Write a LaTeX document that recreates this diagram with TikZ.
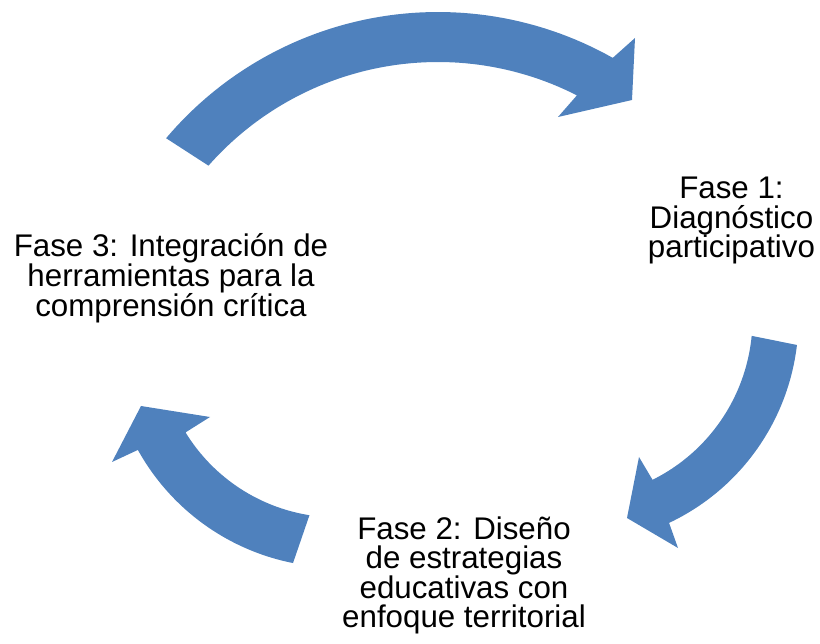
\documentclass[tikz,border=0pt]{standalone}
\usepackage{fontspec}
\setmainfont{Liberation Sans}
\definecolor{arrowblue}{RGB}{79,129,189}
\begin{document}
\begin{tikzpicture}[x=1pt,y=-1pt,
  cyclearrow/.style={fill=arrowblue},
  phase/.style={font=\fontsize{31.3}{29.5}\selectfont, align=center, anchor=base, inner sep=0pt, text=black}]
\useasboundingbox (0,0) rectangle (820,644);
% top arrow (Fase 3 -> Fase 1)
\fill[cyclearrow] plot[domain=220.2:299.4, samples=60] ({438+356*cos(\x)},{368+356*sin(\x)})
  -- (635,38) -- (632,100) -- (558,117)
  -- plot[domain=297:221.4, samples=60] ({438+306*cos(\x)},{368+306*sin(\x)}) -- cycle;
% right arrow (Fase 1 -> Fase 2)
\fill[cyclearrow] plot[domain=5.5:63.6, samples=50] ({572.5+180*cos(\x)},{318.6+180*sin(\x)})
  -- (639,457) -- (627,518) -- (678,548)
  -- plot[domain=64.7:6.7, samples=50] ({572.5+226*cos(\x)},{318.6+226*sin(\x)}) -- cycle;
% left arrow (Fase 2 -> Fase 3)
\fill[cyclearrow] plot[domain=99:148.5, samples=50] ({337.3+178*cos(\x)},{339.4+178*sin(\x)})
  -- (210,417) -- (141,406) -- (112,462)
  -- plot[domain=151:101.2, samples=50] ({337.3+228*cos(\x)},{339.4+228*sin(\x)}) -- cycle;
\node[phase] (f1) at (731.5,258) {Fase 1:\\Diagnóstico\\participativo};
\node[phase] (f2) at (464,627.7) {Fase 2: Diseño\\de estrategias\\educativas con\\enfoque territorial};
\node[phase] (f3) at (171,316.7) {Fase 3: Integración de\\herramientas para la\\comprensión crítica};
\end{tikzpicture}
\end{document}
